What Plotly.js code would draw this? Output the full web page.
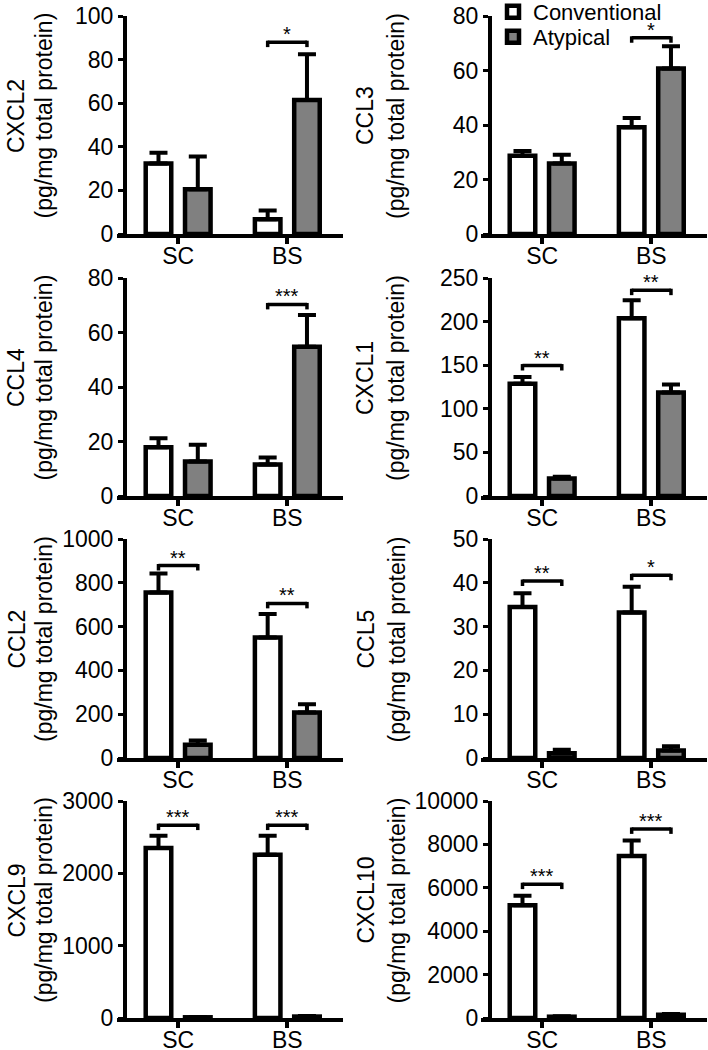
<!DOCTYPE html>
<html>
<head>
<meta charset="utf-8">
<script src="https://cdn.plot.ly/plotly-3.0.1.min.js"></script>
<style>html,body{margin:0;padding:0;background:#fff;}#chart{width:708px;height:1050px;}</style>
</head>
<body>
<div id="chart"></div>
<script>
// ---- data ----
const groups = ['SC', 'BS'];
const seriesNames = ['Conventional', 'Atypical'];
const chemokines = ['CXCL2', 'CCL3', 'CCL4', 'CXCL1', 'CCL2', 'CCL5', 'CXCL9', 'CXCL10'];
const unitLabel = '(pg/mg total protein)';
const convMean = [[32.3, 6.8], [28.7, 39.2], [17.9, 11.6], [128.8, 203.8], [756, 550], [34.5, 33.2], [2350, 2258], [5197, 7470]];
const convErr  = [[5, 4], [1.8, 3.4], [3.3, 2.5], [7.6, 20.8], [86, 107], [3.1, 5.9], [169, 261], [439, 712]];
const atypMean = [[20.5, 61.5], [25.9, 60.7], [12.7, 54.8], [20, 118.6], [60, 208], [1.1, 1.7], [10, 20], [60, 150]];
const atypErr  = [[15, 21], [3.2, 8.2], [6.1, 11.6], [2, 9.4], [20, 38], [0.8, 1.0], [5, 8], [20, 40]];
const yMax  = [100, 80, 80, 250, 1000, 50, 3000, 10000];
const yStep = [20, 20, 20, 50, 200, 10, 1000, 2000];
const sigLabel = [['', '*'], ['', '*'], ['', '***'], ['**', '**'], ['**', '**'], ['**', '*'], ['***', '***'], ['***', '***']];
const sigLevel = [[null, 88], [null, 72], [null, 70.3], [149.6, 236], [879, 706], [40.4, 41.7], [2666, 2666], [6167, 8712]];

// ---- layout geometry ----
const W = 708, H = 1050;
const FONT = 'Liberation Sans, Arial, Helvetica, sans-serif';
const rowsPx = [[16, 236], [278, 498], [539, 760], [801, 1020]];
const colsPx = [[117, 343], [481, 707]];
const yLinePx = [125, 490];
const titleLine1Px = [16, 365];
const titleLine2Px = [43.5, 396];
const barOffset = 0.18;

const data = [];
const shapes = [];
const annotations = [];
const legendBase = {
  xanchor: 'left', yanchor: 'top',
  font: {family: FONT, size: 22, color: '#000'},
  bgcolor: 'rgba(0,0,0,0)', borderwidth: 0, tracegroupgap: 0
};
const layout = {
  width: W, height: H,
  margin: {l: 0, r: 0, t: 0, b: 0, autoexpand: false},
  paper_bgcolor: '#fff', plot_bgcolor: 'rgba(0,0,0,0)',
  font: {family: FONT, color: '#000', size: 23},
  barmode: 'group', bargap: 0.28, bargroupgap: 0.35,
  showlegend: true,
  legend: Object.assign({x: 493 / W, y: 1 + 9 / H}, legendBase),
  legend2: Object.assign({x: 493 / W, y: 1 - 16 / H}, legendBase),
  shapes: shapes, annotations: annotations
};

chemokines.forEach((name, p) => {
  const row = Math.floor(p / 2), col = p % 2;
  const sfx = p === 0 ? '' : String(p + 1);
  const xa = 'x' + sfx, ya = 'y' + sfx;
  const [T, Z] = rowsPx[row];
  const [L, R] = colsPx[col];

  layout['xaxis' + sfx] = {
    domain: [L / W, R / W], anchor: ya,
    type: 'category', categoryorder: 'array', categoryarray: groups,
    range: [-0.56, 1.51], fixedrange: true,
    showline: true, linewidth: 4, linecolor: '#000',
    ticks: 'outside', ticklen: 6, tickwidth: 4, tickcolor: '#000',
    ticklabelstandoff: -8,
    tickfont: {family: FONT, size: 23, color: '#000'},
    showgrid: false, zeroline: false
  };
  layout['yaxis' + sfx] = {
    domain: [1 - (Z - 2) / H, 1 - T / H], anchor: 'free', position: yLinePx[col] / W,
    range: [0, yMax[p]], dtick: yStep[p], tick0: 0, tickformat: 'd', fixedrange: true,
    showline: true, linewidth: 4, linecolor: '#000',
    ticks: 'outside', ticklen: 5, tickwidth: 3, tickcolor: '#000',
    tickfont: {family: FONT, size: 23, color: '#000'},
    showgrid: false, zeroline: false
  };

  const series = [[convMean[p], convErr[p], '#ffffff'], [atypMean[p], atypErr[p], '#808080']];
  series.forEach(([m, e, c], s) => {
    data.push({
      type: 'bar', name: seriesNames[s], x: groups, y: m,
      xaxis: xa, yaxis: ya,
      legend: s === 0 ? 'legend' : 'legend2',
      legendgroup: seriesNames[s], showlegend: p === 0,
      marker: {color: c, line: {color: '#000', width: 4.5}},
      error_y: {type: 'data', symmetric: false, array: e, arrayminus: e.map(() => 0),
                color: '#000', thickness: 4, width: 9},
      hoverinfo: 'skip'
    });
  });

  // significance brackets
  const drop = yMax[p] * 5 / 220;
  groups.forEach((g, gi) => {
    const lab = sigLabel[p][gi];
    if (!lab) return;
    const lv = sigLevel[p][gi];
    const x0 = gi - barOffset, x1 = gi + barOffset;
    const ln = {color: '#000', width: 3.5};
    shapes.push({type: 'line', xref: xa, yref: ya, x0: x0, x1: x1, y0: lv, y1: lv, line: ln});
    shapes.push({type: 'line', xref: xa, yref: ya, x0: x0, x1: x0, y0: lv + drop * 0.3, y1: lv - drop, line: ln});
    shapes.push({type: 'line', xref: xa, yref: ya, x0: x1, x1: x1, y0: lv + drop * 0.3, y1: lv - drop, line: ln});
    annotations.push({xref: xa, yref: ya, x: gi, y: lv, text: lab, showarrow: false,
      yanchor: 'bottom', xanchor: 'center', yshift: -5,
      font: {family: FONT, size: 20, color: '#000'}});
  });

  // y-axis title, one rotated line each
  const yc = 1 - ((T + Z) / 2 - 10) / H;
  [[name, titleLine1Px[col]], [unitLabel, titleLine2Px[col]]].forEach(([txt, xp]) => {
    annotations.push({xref: 'paper', yref: 'paper', x: xp / W, y: yc,
      xanchor: 'center', yanchor: 'middle', textangle: -90, showarrow: false,
      text: txt, font: {family: FONT, size: 23, color: '#000'}});
  });
});

Plotly.newPlot('chart', data, layout, {displayModeBar: false, staticPlot: true});
</script>
</body>
</html>
